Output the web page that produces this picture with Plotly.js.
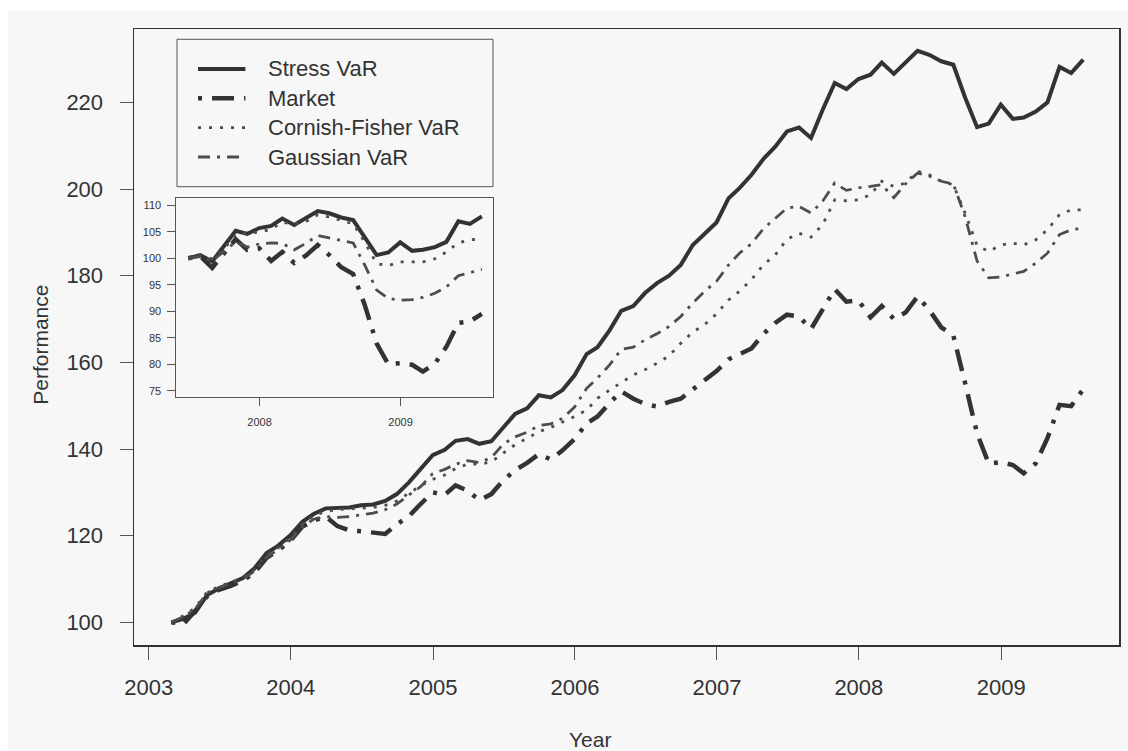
<!DOCTYPE html>
<html>
<head>
<meta charset="utf-8">
<script src="https://cdn.plot.ly/plotly-3.0.1.min.js"></script>
<style>
  html, body { margin: 0; padding: 0; background: #ffffff; }
  #chart { position: absolute; left: 8px; top: 11px; width: 1120px; height: 740px; }
</style>
</head>
<body>
<div id="chart"></div>
<script>
// ---------- DATA (monthly, month-end, Feb 2003 .. Jul 2009) ----------
const stressVaR = [100.0,100.8,102.2,106.3,107.8,108.9,110.2,112.5,116.0,117.7,120.1,123.2,125.0,
  126.3,126.5,126.5,127.0,127.2,128.0,129.6,132.3,135.3,138.6,139.8,141.9,142.3,141.2,141.8,
  145.0,148.1,149.4,152.4,151.9,153.6,157.0,161.9,163.5,167.4,171.9,173.0,176.0,178.3,180.0,
  182.5,187.1,189.7,192.3,197.9,200.2,203.3,206.9,209.8,213.3,214.2,211.8,218.3,224.5,223.1,
  225.4,226.4,229.2,226.6,229.3,231.9,231.0,229.5,228.7,221.2,214.3,215.1,219.5,216.2,216.5,
  217.9,220.0,228.2,226.8,229.9];
const market = [100.0,99.6,102.6,106.0,107.5,108.4,109.6,111.5,114.9,116.6,118.8,122.1,123.5,
  124.4,122.2,121.2,121.0,120.6,120.4,122.6,124.5,127.3,130.0,129.4,131.6,130.4,128.2,129.6,
  132.7,135.1,136.8,138.8,137.6,139.7,142.3,145.9,147.5,150.6,153.3,151.6,150.4,149.8,150.9,
  151.6,153.8,155.8,158.0,160.7,162.0,163.2,166.5,169.1,171.0,170.6,167.7,172.0,176.9,174.0,
  174.3,170.4,173.0,170.0,171.5,175.2,172.1,168.1,166.2,155.3,143.6,136.6,137.0,136.3,134.4,
  136.7,142.5,150.2,149.9,153.8];
const cornishFisherVaR = [100.0,101.5,103.3,107.0,108.2,109.3,110.3,112.2,115.5,117.2,119.6,122.6,124.6,
  125.6,126.0,126.2,126.4,126.5,127.0,128.0,129.8,131.5,133.0,134.0,135.5,136.5,136.5,137.0,
  139.0,141.0,142.5,144.0,145.0,146.2,147.5,149.0,151.7,153.6,155.3,157.1,158.3,159.8,161.5,
  164.4,167.0,168.7,171.2,174.4,176.4,179.1,182.5,184.8,188.4,189.8,188.9,191.8,197.5,197.3,
  197.5,198.7,201.8,200.6,201.4,204.1,203.3,201.8,201.0,194.5,187.0,185.6,187.1,187.5,187.1,
  188.3,190.6,194.1,195.2,195.2];
const gaussianVaR = [100.0,101.3,103.0,106.8,108.0,109.0,110.0,111.8,115.0,116.8,119.0,122.0,123.8,
  124.4,124.2,124.4,124.8,125.2,126.0,127.3,129.4,131.3,134.3,135.3,136.5,137.3,136.9,138.0,
  141.1,142.8,143.9,145.4,145.8,147.1,149.7,154.0,156.4,159.4,163.0,163.5,165.2,166.6,168.3,
  170.6,173.7,176.4,178.7,182.5,185.2,187.4,190.8,193.3,195.6,196.0,194.5,197.2,201.4,199.7,
  200.3,200.6,201.0,198.0,201.2,203.7,203.0,201.8,201.2,193.7,183.4,179.5,179.7,180.4,181.0,
  182.9,185.2,189.5,190.6,191.0];

// inset: rebased to 100 at end of June 2007 (Jun 2007 .. Jul 2009)
const insetStress = [100,100.6,99.4,102.3,105.2,104.6,105.7,106.1,107.5,106.3,107.5,108.9,108.5,
  107.7,107.2,103.8,100.6,101.1,103.0,101.4,101.6,102.1,103.1,107.0,106.5,107.9];
const insetMarket = [100,100.4,98.2,100.9,103.6,101.6,101.9,99.5,101.2,99.1,100.5,102.5,100.6,
  98.3,97.0,91.2,83.9,80.0,80.2,79.9,78.6,80.1,83.3,87.8,88.1,89.5];
const insetCF = [100,100.5,99.9,101.7,104.5,104.8,104.9,105.5,106.8,106.4,106.9,108.2,107.8,
  107.1,106.5,103.0,99.0,98.6,99.3,99.3,99.3,99.9,101.2,102.9,103.5,103.6];
const insetGaussian = [100,100.3,99.5,101.3,103.1,102.1,102.7,102.9,102.8,101.6,102.8,104.3,103.8,
  103.4,102.9,98.7,94.0,92.4,92.1,92.2,92.6,93.4,94.6,96.7,97.3,97.9];

const seriesNames = ["Stress VaR", "Market", "Cornish-Fisher VaR", "Gaussian VaR"];
const yearTicks = ["2003","2004","2005","2006","2007","2008","2009"];
const perfTicks = [100,120,140,160,180,200,220];
const insetYearTicks = ["2008","2009"];
const insetPerfTicks = [75,80,85,90,95,100,105,110];

// month-end dates
function monthEnds(y, m, n) {
  const out = [];
  for (let i = 0; i < n; i++) {
    const d = new Date(Date.UTC(y, m + i, 0));
    out.push(d.toISOString().slice(0, 10));
  }
  return out;
}
const dates = monthEnds(2003, 2, stressVaR.length);      // 2003-02-28 ...
const insetDates = monthEnds(2007, 6, insetStress.length); // 2007-06-30 ...

// ---------- STYLES ----------
const styles = [
  {color: "#333333", width: 4,   dash: "solid"},
  {color: "#333333", width: 4.5, dash: "4px,10px,22px,10px"},
  {color: "#4d4d4d", width: 2.8, dash: "3px,8px"},
  {color: "#4d4d4d", width: 2.8, dash: "12px,7px,3px,7px"}
];
const mainSeries = [stressVaR, market, cornishFisherVaR, gaussianVaR];
const insetSeries = [insetStress, insetMarket, insetCF, insetGaussian];

const traces = [];
mainSeries.forEach((s, k) => traces.push({
  type: "scatter", mode: "lines", x: dates, y: s, name: seriesNames[k],
  xaxis: "x", yaxis: "y", showlegend: false, hoverinfo: "x+y+name",
  line: {color: styles[k].color, width: styles[k].width, dash: styles[k].dash}
}));
insetSeries.forEach((s, k) => traces.push({
  type: "scatter", mode: "lines", x: insetDates, y: s, name: seriesNames[k] + " (inset)",
  xaxis: "x2", yaxis: "y2", showlegend: false, hoverinfo: "x+y+name",
  line: {color: styles[k].color, width: styles[k].width, dash: styles[k].dash}
}));

const font = "Liberation Sans, Arial, Helvetica, sans-serif";

// legend geometry (paper coords)
const legRows = [0.9351, 0.8875, 0.8398, 0.7922];
const shapes = [{
  type: "rect", xref: "paper", yref: "paper",
  x0: 0.04365, x1: 0.36447, y0: 0.744, y1: 0.9833,
  line: {color: "#555555", width: 1}, fillcolor: "rgba(0,0,0,0)"
}];
const annotations = [];
seriesNames.forEach((n, k) => {
  shapes.push({
    type: "line", xref: "paper", yref: "paper",
    x0: 0.0650, x1: 0.1131, y0: legRows[k], y1: legRows[k],
    line: {color: styles[k].color, width: styles[k].width, dash: styles[k].dash}
  });
  annotations.push({
    xref: "paper", yref: "paper", x: 0.1344, y: legRows[k],
    xanchor: "left", yanchor: "middle", showarrow: false, text: n,
    font: {family: font, size: 22, color: "#333333"}
  });
});
annotations.push({
  xref: "paper", yref: "paper", x: 0.4627, y: -0.1542, xanchor: "center", yanchor: "middle",
  showarrow: false, text: "Year", font: {family: font, size: 21, color: "#333333"}
});
annotations.push({
  xref: "paper", yref: "paper", x: -0.0957, y: 0.487, xanchor: "center", yanchor: "middle",
  showarrow: false, text: "Performance", textangle: -90,
  font: {family: font, size: 21, color: "#333333"}
});

const layout = {
  width: 1120, height: 740,
  margin: {l: 126, r: 9, t: 18, b: 106},
  paper_bgcolor: "#f7f7f7", plot_bgcolor: "#f7f7f7",
  showlegend: false,
  font: {family: font, color: "#333333"},
  xaxis: {
    type: "date", range: ["2002-11-24", "2009-10-31"],
    tickvals: yearTicks.map(y => y + "-01-01"), ticktext: yearTicks,
    ticks: "outside", ticklen: 13, tickwidth: 1, tickcolor: "#555555",
    ticklabelstandoff: 9,
    tickfont: {family: font, size: 22, color: "#333333"},
    showline: true, mirror: true, linecolor: "#333333", linewidth: 1.5,
    showgrid: false, zeroline: false
  },
  yaxis: {
    range: [94.76, 236.95], tickvals: perfTicks, ticktext: perfTicks.map(String),
    ticks: "outside", ticklen: 13, tickwidth: 1, tickcolor: "#555555",
    ticklabelstandoff: 12,
    tickfont: {family: font, size: 22, color: "#333333"},
    showline: true, mirror: true, linecolor: "#333333", linewidth: 1.5,
    showgrid: false, zeroline: false
  },
  xaxis2: {
    type: "date", domain: [0.0430, 0.3645], anchor: "y2",
    range: ["2007-05-30", "2009-08-29"],
    tickvals: insetYearTicks.map(y => y + "-01-01"), ticktext: insetYearTicks,
    ticks: "outside", ticklen: 8, tickwidth: 1, tickcolor: "#555555",
    ticklabelstandoff: 6,
    tickfont: {family: font, size: 11, color: "#333333"},
    showline: true, mirror: true, linecolor: "#555555", linewidth: 1,
    showgrid: false, zeroline: false
  },
  yaxis2: {
    domain: [0.4021, 0.7261], anchor: "x2", range: [73.75, 111.43],
    tickvals: insetPerfTicks, ticktext: insetPerfTicks.map(String),
    ticks: "outside", ticklen: 8, tickwidth: 1, tickcolor: "#555555",
    ticklabelstandoff: 4,
    tickfont: {family: font, size: 11, color: "#333333"},
    showline: true, mirror: true, linecolor: "#555555", linewidth: 1,
    showgrid: false, zeroline: false
  },
  shapes: shapes,
  annotations: annotations
};

Plotly.newPlot("chart", traces, layout, {displayModeBar: false, staticPlot: true});
</script>
</body>
</html>
